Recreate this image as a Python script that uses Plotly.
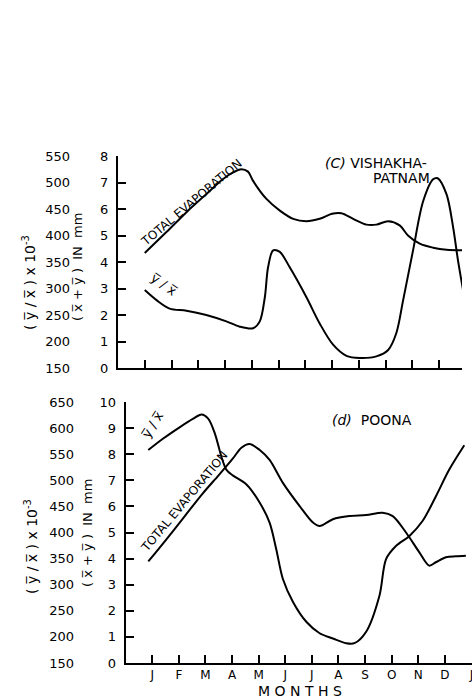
import plotly.graph_objects as go

# ---------------- data ----------------
# (c) VISHAKHAPATNAM  - months (J=1 ... D=12)
c_evap_month = [1.0, 1.81, 2.56, 3.3, 3.93, 4.3, 4.61, 4.86, 5.05, 5.55, 6.05, 6.55, 7.04,
                7.54, 8.0, 8.35, 8.79, 9.29, 9.66, 10.1, 10.53, 10.84, 11.28, 11.78, 12.28, 12.86]
c_evap_mm = [4.34, 5.13, 5.88, 6.56, 7.13, 7.38, 7.5, 7.41, 7.06, 6.38, 5.94, 5.63, 5.54,
             5.63, 5.82, 5.84, 5.63, 5.41, 5.41, 5.54, 5.38, 5.0, 4.69, 4.54, 4.46, 4.44]
c_ratio_month = [1.0, 1.44, 1.93, 2.56, 3.3, 4.05, 4.55, 5.05, 5.3, 5.49, 5.61, 5.8, 6.05, 6.42,
                 7.04, 7.54, 8.04, 8.54, 9.04, 9.66, 10.1, 10.4, 10.66, 11.03, 11.41, 11.78,
                 11.95, 12.28, 12.53, 12.71, 12.9]
c_ratio = [297, 278, 262, 258, 250, 238, 228, 225, 238, 284, 340, 372, 369, 340,
           284, 234, 194, 173, 169, 172, 184, 215, 278, 372, 465, 506,
           508, 478, 415, 353, 297]

# (d) POONA
d_evap_month = [0.85, 1.5, 2.2, 2.9, 3.5, 4.04, 4.35, 4.66, 5.04, 5.41, 5.91, 6.54, 7.04, 7.29,
                7.79, 8.41, 9.04, 9.66, 10.04, 10.54, 11.04, 11.41, 11.66, 12.04, 12.41, 12.79]
d_evap_mm = [3.89, 4.7, 5.6, 6.5, 7.2, 7.85, 8.25, 8.39, 8.16, 7.78, 6.9, 6.01, 5.38, 5.25,
             5.51, 5.63, 5.67, 5.76, 5.63, 5.0, 4.24, 3.73, 3.86, 4.05, 4.09, 4.11]
d_ratio_month = [0.85, 1.41, 2.04, 2.54, 2.85, 3.1, 3.35, 3.6, 3.79, 4.04, 4.54, 5.04, 5.41, 5.66,
                 5.91, 6.29, 6.79, 7.29, 7.79, 8.29, 8.6, 9.04, 9.54, 9.79, 10.16, 10.66, 11.16,
                 11.66, 12.16, 12.73]
d_ratio = [558, 580, 602, 618, 626, 618, 590, 545, 520, 509, 492, 457, 419, 368,
           311, 267, 229, 207, 197, 188, 188, 210, 279, 349, 374, 393, 422,
           469, 520, 567]

month_ticks = [1, 2, 3, 4, 5, 6, 7, 8, 9, 10, 11, 12, 13]
month_labels = ["J", "F", "M", "A", "M", "J", "J", "A", "S", "O", "N", "D", "J"]
c_mm_ticks = [0, 1, 2, 3, 4, 5, 6, 7, 8]
c_ratio_ticks = [150, 200, 250, 300, 350, 400, 450, 500, 550]
d_mm_ticks = [0, 1, 2, 3, 4, 5, 6, 7, 8, 9, 10]
d_ratio_ticks = [150, 200, 250, 300, 350, 400, 450, 500, 550, 600, 650]

# ---------------- figure ----------------
W, H = 472, 700
FONT = "DejaVu Sans"


def px(x):
    return x / W


def py(y):
    return 1 - y / H


line = dict(color="black", width=2, shape="spline", smoothing=0.9)

fig = go.Figure()
fig.add_trace(go.Scatter(x=c_evap_month, y=c_evap_mm, mode="lines", line=line,
                         xaxis="x", yaxis="y", hoverinfo="skip"))
fig.add_trace(go.Scatter(x=c_ratio_month, y=c_ratio, mode="lines", line=line,
                         xaxis="x", yaxis="y2", hoverinfo="skip"))
fig.add_trace(go.Scatter(x=d_evap_month, y=d_evap_mm, mode="lines", line=line,
                         xaxis="x2", yaxis="y3", hoverinfo="skip"))
fig.add_trace(go.Scatter(x=d_ratio_month, y=d_ratio, mode="lines", line=line,
                         xaxis="x2", yaxis="y4", hoverinfo="skip"))

tickfont = dict(family=FONT, size=13, color="black")
common_x = dict(showline=True, linecolor="black", linewidth=2, ticks="inside", ticklen=8,
                tickwidth=1.5, tickcolor="black", showgrid=False, zeroline=False,
                tickfont=tickfont, automargin=False)
common_y = dict(showline=True, linecolor="black", linewidth=2, ticks="inside", ticklen=8,
                tickwidth=1.5, tickcolor="black", showgrid=False, zeroline=False,
                tickfont=tickfont, ticklabelstandoff=5, automargin=False)
outer_y = dict(showline=False, ticks="", showgrid=False, zeroline=False, tickfont=tickfont,
               anchor="free", side="left", automargin=False)

fig.update_layout(
    width=W, height=H, margin=dict(l=0, r=0, t=0, b=0, autoexpand=False),
    paper_bgcolor="white", plot_bgcolor="white", showlegend=False,
    font=dict(family=FONT, color="black"),
    xaxis=dict(common_x, domain=[px(118), px(462)], range=[0, 12.86],
               tickvals=month_ticks[:12], showticklabels=False, anchor="y"),
    yaxis=dict(common_y, domain=[py(368), py(156)], range=[0, 8],
               tickvals=c_mm_ticks, anchor="x"),
    yaxis2=dict(outer_y, overlaying="y", range=[150, 550], tickvals=c_ratio_ticks,
                position=px(70)),
    xaxis2=dict(common_x, domain=[px(125.7), 1.0], range=[0, 13.02],
                tickvals=month_ticks, ticktext=month_labels, anchor="y3",
                ticklabeloverflow="allow",
                tickfont=dict(family=FONT, size=12, color="black")),
    yaxis3=dict(common_y, domain=[py(663), py(402)], range=[0, 10],
                tickvals=d_mm_ticks, anchor="x2"),
    yaxis4=dict(outer_y, overlaying="y3", range=[150, 650], tickvals=d_ratio_ticks,
                position=px(74)),
)

ratio_title = "( y\u0305 / x\u0305 ) x 10<sup>-3</sup>"
evap_title = "( x\u0305 + y\u0305 )  IN  mm"
ratio_lbl = "y\u0305 / x\u0305"

annots = [
    # top panel
    dict(text="TOTAL EVAPORATION", x=px(191), y=py(203), textangle=-40, size=12),
    dict(text=ratio_lbl, x=px(164), y=py(284), textangle=35, size=13),
    dict(text="<i>(C)</i> VISHAKHA-", x=px(376), y=py(163), textangle=0, size=14),
    dict(text="PATNAM", x=px(401), y=py(178), textangle=0, size=14),
    dict(text=ratio_title, x=px(29), y=py(283), textangle=-90, size=14),
    dict(text=evap_title, x=px(77), y=py(267), textangle=-90, size=13),
    # bottom panel
    dict(text="TOTAL EVAPORATION", x=px(184), y=py(502), textangle=-50, size=12),
    dict(text=ratio_lbl, x=px(153), y=py(425), textangle=-58, size=13),
    dict(text="<i>(d)</i>  POONA", x=px(372), y=py(420), textangle=0, size=14),
    dict(text=ratio_title, x=px(31), y=py(547), textangle=-90, size=14),
    dict(text=evap_title, x=px(87), y=py(533), textangle=-90, size=13),
    dict(text="M O N T H S", x=px(300), y=py(691), textangle=0, size=14),
]
for a in annots:
    fig.add_annotation(text=a["text"], x=a["x"], y=a["y"], xref="paper", yref="paper",
                       showarrow=False, textangle=a["textangle"], xanchor="center",
                       yanchor="middle", font=dict(family=FONT, size=a["size"], color="black"))

# remove the default 8px page margin so the figure sits at the window's corner
fig.write_html("out.html", config={"displayModeBar": False},
               post_script="document.body.style.margin='0';document.body.style.overflow='hidden';")
